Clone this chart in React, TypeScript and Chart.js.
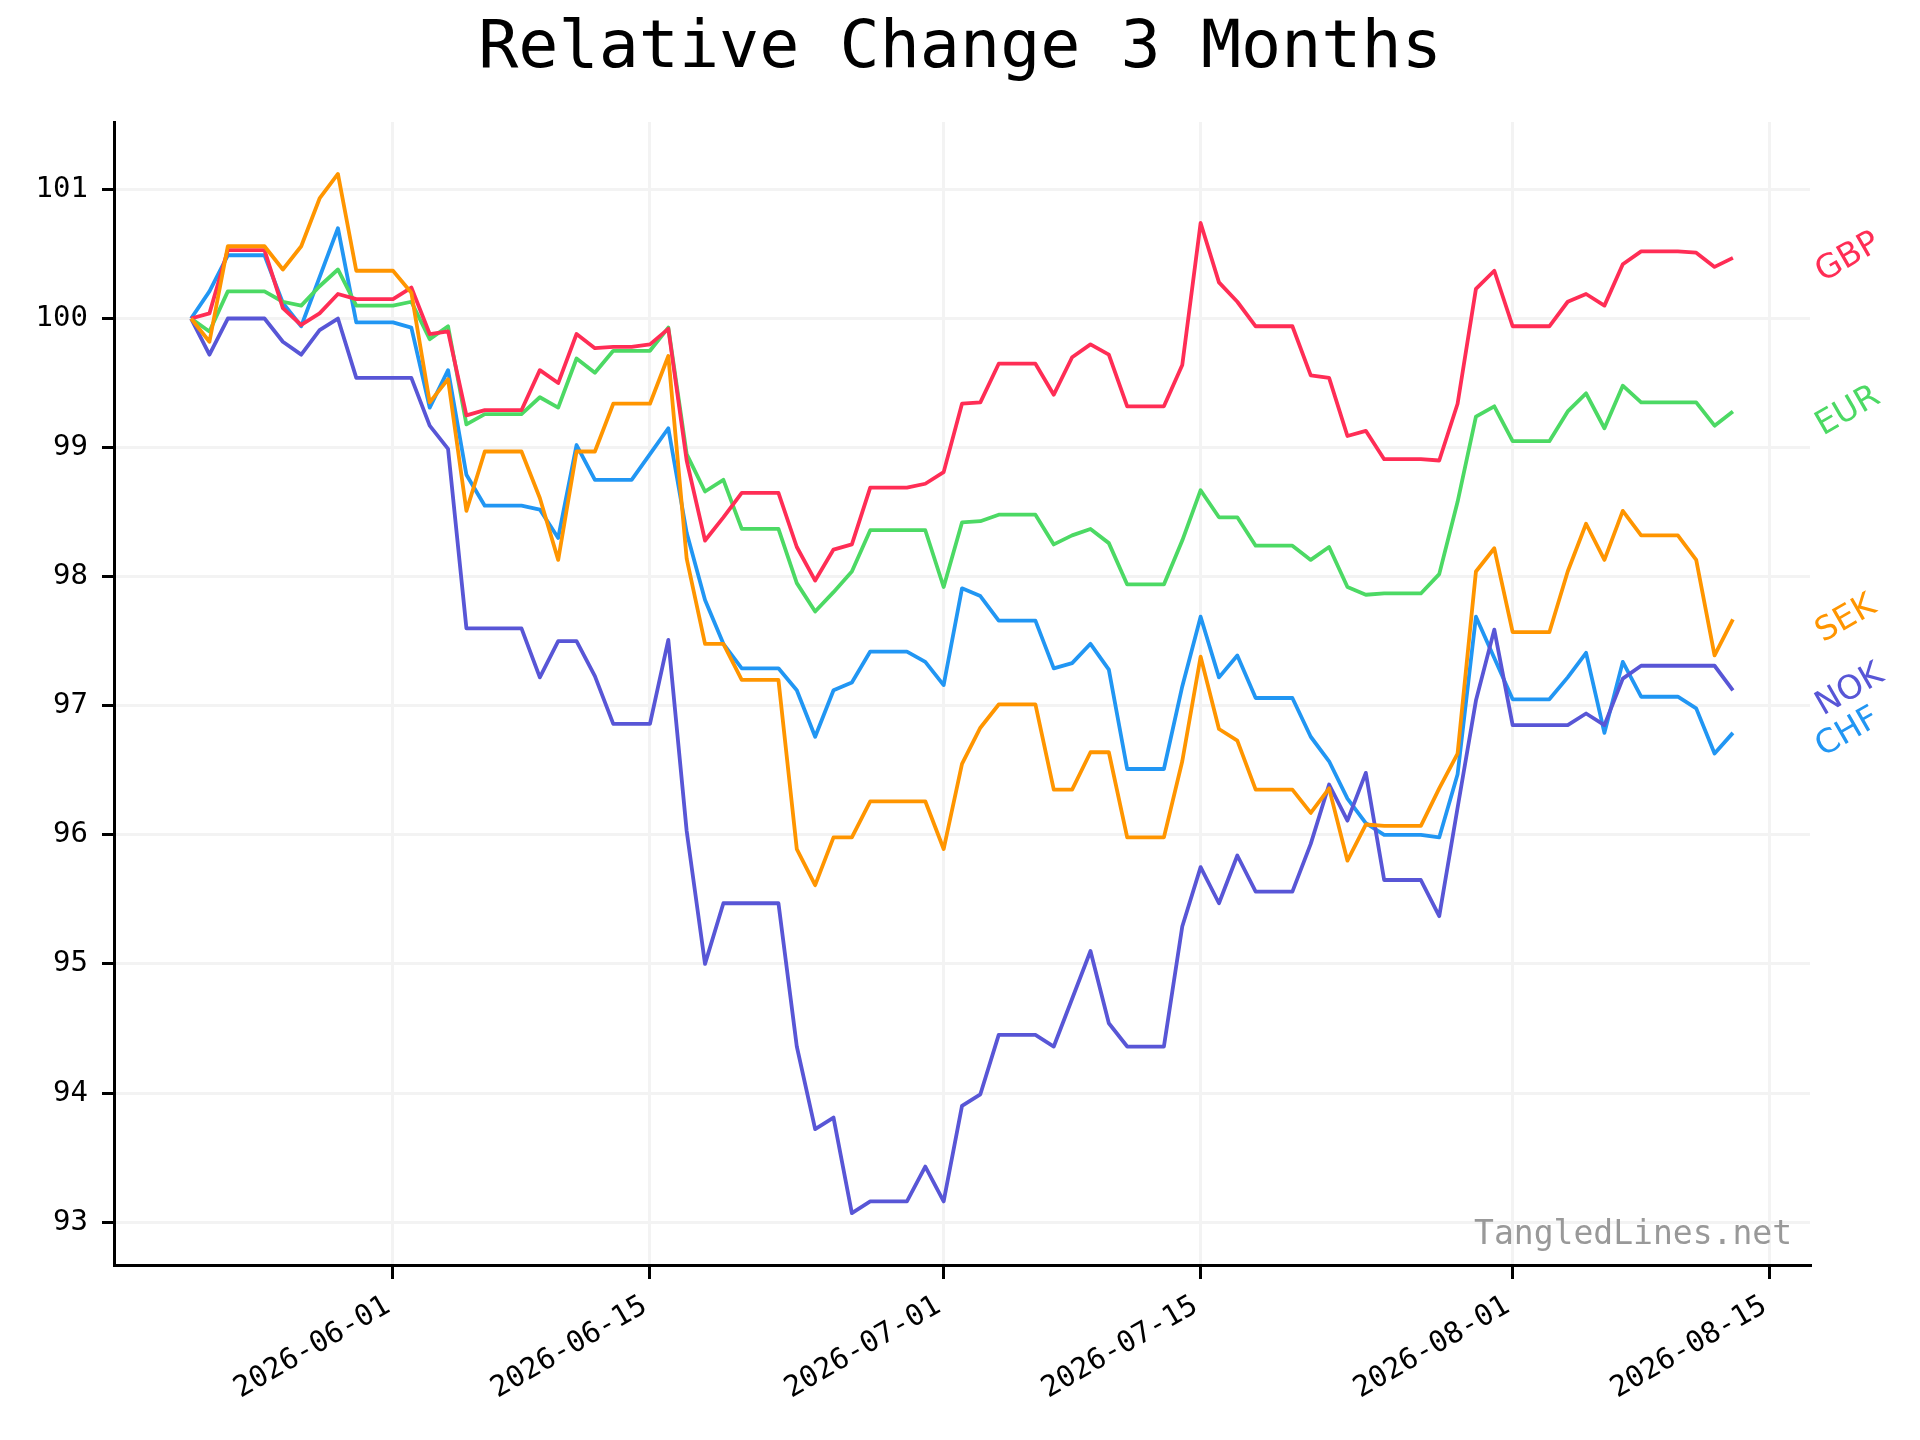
import { useEffect, useRef } from 'react';
import { Chart, registerables } from 'chart.js';

Chart.register(...registerables);

const TITLE = 'Relative Change 3 Months';
const WATERMARK = 'TangledLines.net';

const dates = [
  '2026-05-21', '2026-05-22', '2026-05-23', '2026-05-24', '2026-05-25', '2026-05-26', '2026-05-27', '2026-05-28', '2026-05-29', '2026-05-30', '2026-05-31',
  '2026-06-01', '2026-06-02', '2026-06-03', '2026-06-04', '2026-06-05', '2026-06-06', '2026-06-07', '2026-06-08', '2026-06-09', '2026-06-10',
  '2026-06-11', '2026-06-12', '2026-06-13', '2026-06-14', '2026-06-15', '2026-06-16', '2026-06-17', '2026-06-18', '2026-06-19', '2026-06-20',
  '2026-06-21', '2026-06-22', '2026-06-23', '2026-06-24', '2026-06-25', '2026-06-26', '2026-06-27', '2026-06-28', '2026-06-29', '2026-06-30',
  '2026-07-01', '2026-07-02', '2026-07-03', '2026-07-04', '2026-07-05', '2026-07-06', '2026-07-07', '2026-07-08', '2026-07-09', '2026-07-10',
  '2026-07-11', '2026-07-12', '2026-07-13', '2026-07-14', '2026-07-15', '2026-07-16', '2026-07-17', '2026-07-18', '2026-07-19', '2026-07-20',
  '2026-07-21', '2026-07-22', '2026-07-23', '2026-07-24', '2026-07-25', '2026-07-26', '2026-07-27', '2026-07-28', '2026-07-29', '2026-07-30',
  '2026-07-31', '2026-08-01', '2026-08-02', '2026-08-03', '2026-08-04', '2026-08-05', '2026-08-06', '2026-08-07', '2026-08-08', '2026-08-09',
  '2026-08-10', '2026-08-11', '2026-08-12', '2026-08-13',
];

const gbp = [
  100, 100.04, 100.53, 100.53, 100.53, 100.08, 99.95, 100.04, 100.19, 100.15, 100.15,
  100.15, 100.24, 99.88, 99.9, 99.25, 99.29, 99.29, 99.29, 99.6, 99.5,
  99.88, 99.77, 99.78, 99.78, 99.8, 99.92, 98.9, 98.28, 98.46, 98.65,
  98.65, 98.65, 98.23, 97.97, 98.21, 98.25, 98.69, 98.69, 98.69, 98.72,
  98.81, 99.34, 99.35, 99.65, 99.65, 99.65, 99.41, 99.7, 99.8, 99.72,
  99.32, 99.32, 99.32, 99.64, 100.74, 100.28, 100.13, 99.94, 99.94, 99.94,
  99.56, 99.54, 99.09, 99.13, 98.91, 98.91, 98.91, 98.9, 99.34, 100.23,
  100.37, 99.94, 99.94, 99.94, 100.13, 100.19, 100.1, 100.42, 100.52, 100.52,
  100.52, 100.51, 100.4, 100.47,
];

const eur = [
  100, 99.9, 100.21, 100.21, 100.21, 100.13, 100.1, 100.25, 100.38, 100.1, 100.1,
  100.1, 100.13, 99.84, 99.94, 99.18, 99.26, 99.26, 99.26, 99.39, 99.31,
  99.69, 99.58, 99.75, 99.75, 99.75, 99.93, 98.95, 98.66, 98.75, 98.37,
  98.37, 98.37, 97.95, 97.73, 97.88, 98.04, 98.36, 98.36, 98.36, 98.36,
  97.92, 98.42, 98.43, 98.48, 98.48, 98.48, 98.25, 98.32, 98.37, 98.26,
  97.94, 97.94, 97.94, 98.28, 98.67, 98.46, 98.46, 98.24, 98.24, 98.24,
  98.13, 98.23, 97.92, 97.86, 97.87, 97.87, 97.87, 98.02, 98.58, 99.24,
  99.32, 99.05, 99.05, 99.05, 99.28, 99.42, 99.15, 99.48, 99.35, 99.35,
  99.35, 99.35, 99.17, 99.28,
];

const sek = [
  100, 99.82, 100.56, 100.56, 100.56, 100.38, 100.56, 100.93, 101.12, 100.37, 100.37,
  100.37, 100.2, 99.35, 99.53, 98.51, 98.97, 98.97, 98.97, 98.61, 98.13,
  98.97, 98.97, 99.34, 99.34, 99.34, 99.71, 98.14, 97.48, 97.48, 97.2,
  97.2, 97.2, 95.89, 95.61, 95.98, 95.98, 96.26, 96.26, 96.26, 96.26,
  95.89, 96.55, 96.83, 97.01, 97.01, 97.01, 96.35, 96.35, 96.64, 96.64,
  95.98, 95.98, 95.98, 96.57, 97.38, 96.82, 96.73, 96.35, 96.35, 96.35,
  96.17, 96.36, 95.8, 96.08, 96.07, 96.07, 96.07, 96.36, 96.63, 98.04,
  98.22, 97.57, 97.57, 97.57, 98.04, 98.41, 98.13, 98.51, 98.32, 98.32,
  98.32, 98.13, 97.39, 97.67,
];

const nok = [
  100, 99.72, 100, 100, 100, 99.82, 99.72, 99.91, 100, 99.54, 99.54,
  99.54, 99.54, 99.17, 98.99, 97.6, 97.6, 97.6, 97.6, 97.22, 97.5,
  97.5, 97.23, 96.86, 96.86, 96.86, 97.51, 96.03, 95.0, 95.47, 95.47,
  95.47, 95.47, 94.36, 93.72, 93.81, 93.07, 93.16, 93.16, 93.16, 93.43,
  93.16, 93.9, 93.99, 94.45, 94.45, 94.45, 94.36, 94.73, 95.1, 94.54,
  94.36, 94.36, 94.36, 95.29, 95.75, 95.47, 95.84, 95.56, 95.56, 95.56,
  95.93, 96.39, 96.11, 96.48, 95.65, 95.65, 95.65, 95.37, 96.21, 97.04,
  97.59, 96.85, 96.85, 96.85, 96.85, 96.94, 96.85, 97.21, 97.31, 97.31,
  97.31, 97.31, 97.31, 97.12,
];

const chf = [
  100, 100.21, 100.49, 100.49, 100.49, 100.12, 99.94, 100.32, 100.7, 99.97, 99.97,
  99.97, 99.93, 99.31, 99.6, 98.79, 98.55, 98.55, 98.55, 98.52, 98.3,
  99.02, 98.75, 98.75, 98.75, 98.95, 99.15, 98.34, 97.82, 97.48, 97.29,
  97.29, 97.29, 97.12, 96.76, 97.12, 97.18, 97.42, 97.42, 97.42, 97.34,
  97.16, 97.91, 97.85, 97.66, 97.66, 97.66, 97.29, 97.33, 97.48, 97.28,
  96.51, 96.51, 96.51, 97.15, 97.69, 97.22, 97.39, 97.06, 97.06, 97.06,
  96.76, 96.57, 96.28, 96.09, 96.0, 96.0, 96.0, 95.98, 96.47, 97.69,
  97.37, 97.05, 97.05, 97.05, 97.22, 97.41, 96.79, 97.34, 97.07, 97.07,
  97.07, 96.98, 96.63, 96.79,
];

// drawing order: first entry is painted on top
const seriesNames = ['SEK', 'NOK', 'GBP', 'EUR', 'CHF'];
const seriesValues = [sek, nok, gbp, eur, chf];
const seriesColors = ['#FF9500', '#5856D6', '#FF2D55', '#4CD964', '#2196F3'];

const xTickDates = ['2026-06-01', '2026-06-15', '2026-07-01', '2026-07-15', '2026-08-01', '2026-08-15'];
const yTicks = [93, 94, 95, 96, 97, 98, 99, 100, 101];

const DAY = 86400000;
const t0 = Date.parse(dates[0]);
const dayOf = (d: string) => (Date.parse(d) - t0) / DAY;

const xs = dates.map(dayOf);
const xFirst = xs[0];
const xLast = xs[xs.length - 1];
const xPad = (xLast - xFirst) * 0.05;
const allVals = seriesValues.flat();
const vMin = Math.min(...allVals);
const vMax = Math.max(...allVals);
const yPad = (vMax - vMin) * 0.05;

const MONO = '"DejaVu Sans Mono", monospace';
const SANS = '"DejaVu Sans", sans-serif';

const overlayPlugin = {
  id: 'overlay',
  afterDraw(chart: any) {
    const ctx = chart.ctx as CanvasRenderingContext2D;
    const area = chart.chartArea;
    const yScale = chart.scales.y;
    ctx.save();
    // title
    ctx.fillStyle = '#000';
    ctx.font = `66.7px ${MONO}`;
    ctx.textAlign = 'center';
    ctx.textBaseline = 'alphabetic';
    ctx.fillText(TITLE, chart.width / 2, 67);

    // watermark
    ctx.font = `33px ${MONO}`;
    ctx.textAlign = 'right';
    ctx.textBaseline = 'middle';
    ctx.fillStyle = '#999999';
    ctx.fillText(WATERMARK, area.right - 18, area.bottom - 30);

    // series end labels
    const fs = 33;
    ctx.font = `${fs}px ${SANS}`;
    const ang = Math.PI / 6;
    seriesNames.forEach((name, i) => {
      const vals = seriesValues[i];
      const y = yScale.getPixelForValue(vals[vals.length - 1]);
      const w = ctx.measureText(name).width;
      const h = fs * 1.17;
      const bw = w * Math.cos(ang) + h * Math.sin(ang);
      const cx = area.right - 1 + bw / 2;
      ctx.save();
      ctx.translate(cx, y);
      ctx.rotate(-ang);
      ctx.fillStyle = seriesColors[i];
      ctx.textAlign = 'center';
      ctx.textBaseline = 'middle';
      ctx.fillText(name, 0, 0);
      ctx.restore();
    });
    ctx.restore();
  },
};

export default function App() {
  const ref = useRef<HTMLCanvasElement>(null);
  useEffect(() => {
    document.body.style.margin = '0';
    const canvas = ref.current;
    if (!canvas) return;
    const chart = new Chart(canvas, {
      type: 'line',
      data: {
        datasets: seriesNames.map((name, i) => ({
          label: name,
          data: seriesValues[i].map((v, j) => ({ x: xs[j], y: v })),
          borderColor: seriesColors[i],
          backgroundColor: seriesColors[i],
          borderWidth: 3.8,
          pointRadius: 0,
          tension: 0,
          fill: false,
          borderJoinStyle: 'round' as const,
        })),
      },
      options: {
        responsive: false,
        maintainAspectRatio: false,
        devicePixelRatio: 1,
        animation: false,
        layout: { padding: { top: 122, right: 110, left: 0, bottom: 0 } },
        plugins: {
          legend: { display: false },
          tooltip: { enabled: false },
          title: { display: false },
        },
        scales: {
          x: {
            type: 'linear',
            min: xFirst - xPad,
            max: xLast + xPad,
            afterBuildTicks: (s: any) => {
              s.ticks = xTickDates.map((d) => ({ value: dayOf(d) }));
            },
            afterFit: (s: any) => {
              s.height = 175;
            },
            ticks: {
              autoSkip: false,
              maxRotation: 30,
              minRotation: 30,
              padding: 10,
              labelOffset: -5,
              color: '#000',
              font: { family: MONO, size: 29 },
              callback: (_v: any, idx: number) => xTickDates[idx],
            },
            grid: {
              color: '#f3f3f3',
              lineWidth: 3,
              tickColor: '#000',
              tickLength: 14,
              tickWidth: 3,
            },
            border: { display: true, color: '#000', width: 3 },
          },
          y: {
            type: 'linear',
            min: vMin - yPad,
            max: vMax + yPad,
            afterBuildTicks: (s: any) => {
              s.ticks = yTicks.map((v) => ({ value: v }));
            },
            afterFit: (s: any) => {
              s.width = 114;
            },
            ticks: {
              padding: 14,
              color: '#000',
              font: { family: MONO, size: 29 },
              callback: (v: any) => String(v),
            },
            grid: {
              color: '#f3f3f3',
              lineWidth: 3,
              tickColor: '#000',
              tickLength: 12,
              tickWidth: 3,
            },
            border: { display: true, color: '#000', width: 3 },
          },
        },
      },
      plugins: [overlayPlugin],
    } as any);
    return () => chart.destroy();
  }, []);

  return (
    <div style={{ width: 1920, height: 1440, background: '#fff' }}>
      <canvas ref={ref} width={1920} height={1440} style={{ width: 1920, height: 1440, display: 'block' }} />
    </div>
  );
}
